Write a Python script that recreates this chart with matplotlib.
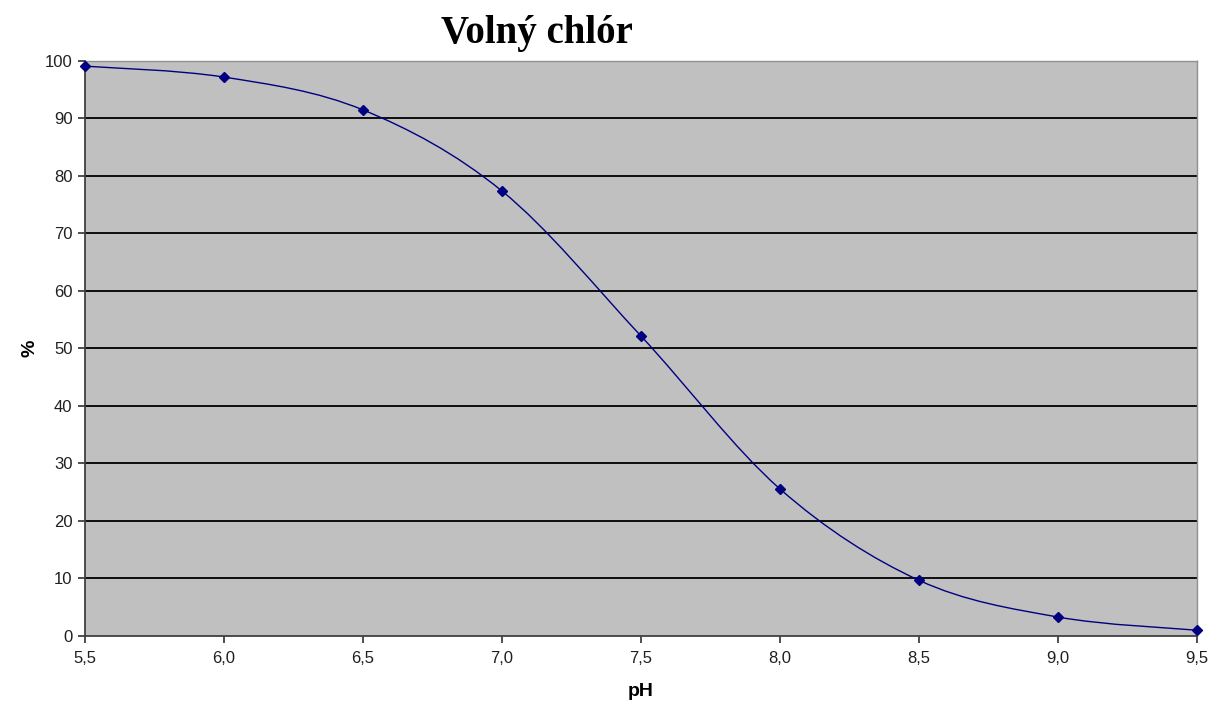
import numpy as np
import matplotlib
matplotlib.use("Agg")
import matplotlib.pyplot as plt
from matplotlib.path import Path
from matplotlib.patches import PathPatch

# Data
#-----------------------------------
ph = [5.5, 6.0, 6.5, 7.0, 7.5, 8.0, 8.5, 9.0, 9.5]
chlor = [99.1, 97.2, 91.5, 77.4, 52.2, 25.6, 9.7, 3.3, 1.0]
x_ticks = [5.5, 6.0, 6.5, 7.0, 7.5, 8.0, 8.5, 9.0, 9.5]
x_tick_labels = ["5,5", "6,0", "6,5", "7,0", "7,5", "8,0", "8,5", "9,0", "9,5"]
y_ticks = list(range(0, 101, 10))


def smooth_path(xs, ys):
    # Excel-like smoothed line: cubic Bezier segments through every point
    pts = np.column_stack([xs, ys])
    n = len(pts)
    verts = [pts[0]]
    codes = [Path.MOVETO]
    for i in range(n - 1):
        p0 = pts[max(i - 1, 0)]
        p1 = pts[i]
        p2 = pts[i + 1]
        p3 = pts[min(i + 2, n - 1)]
        c1 = p1 + (p2 - p0) / 6.0
        c2 = p2 - (p3 - p1) / 6.0
        verts += [c1, c2, p2]
        codes += [Path.CURVE4] * 3
    return Path(verts, codes)


plt.rcParams['font.family'] = ['Liberation Sans', 'DejaVu Sans']

fig = plt.figure(figsize=(12.1, 7.09), dpi=100)
ax = fig.add_axes([0.0702, 0.1030, 0.9188, 0.8110])
ax.set_facecolor('#c0c0c0')

ax.set_xlim(5.5, 9.5)
ax.set_ylim(0, 100)

# gridlines
for v in y_ticks[1:]:
    ax.axhline(v, color='black', linewidth=1.3, zorder=1)

curve = PathPatch(smooth_path(ph, chlor), facecolor='none', edgecolor='#000080',
                  linewidth=1.0, zorder=3, clip_on=False)
ax.add_patch(curve)
ax.plot(ph, chlor, linestyle='none', marker='D', markersize=5,
        color='#000080', zorder=4, clip_on=False)

ax.set_xticks(x_ticks)
ax.set_xticklabels(x_tick_labels)
ax.set_yticks(y_ticks)
ax.tick_params(axis='both', direction='out', length=5, width=1.2,
               color='#303030', labelsize=12, labelcolor='#202020', pad=4)
ax.tick_params(axis='x', pad=6)

for side in ['left', 'bottom']:
    ax.spines[side].set_color('#404040')
    ax.spines[side].set_linewidth(1.3)
for side in ['top', 'right']:
    ax.spines[side].set_color('#909090')
    ax.spines[side].set_linewidth(1.0)

ax.set_xlabel("pH", fontsize=14, fontweight='bold')
ax.xaxis.set_label_coords(0.5, -0.082)
ax.set_ylabel("%", fontsize=14, fontweight='bold')
ax.yaxis.set_label_coords(-0.042, 0.5)

fig.text(0.444, 0.94, "Volný chlór", ha='center', va='baseline',
         fontsize=28, fontweight='bold', family=['Liberation Serif', 'DejaVu Serif'])

fig.savefig("out.png", dpi=100)
